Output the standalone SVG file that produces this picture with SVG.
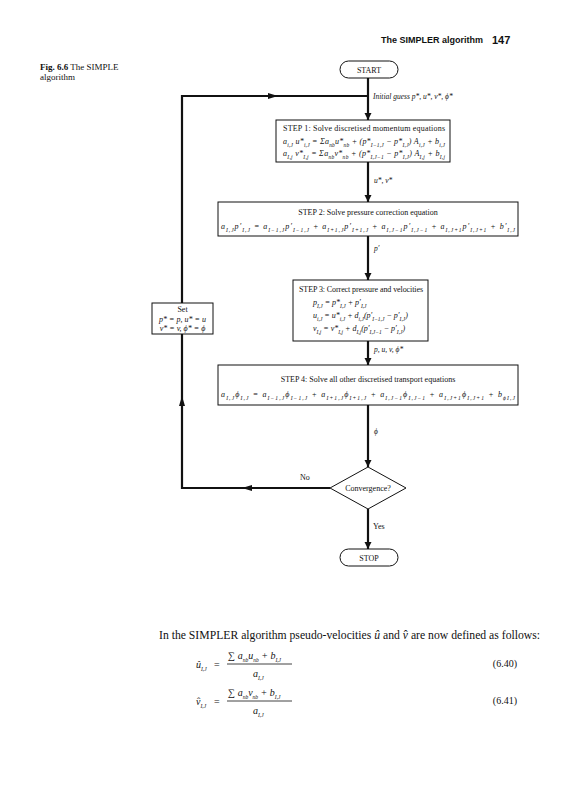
<svg xmlns="http://www.w3.org/2000/svg" width="565" height="800" viewBox="0 0 565 800">
<style>
text{font-family:"Liberation Serif","Times New Roman",serif;fill:#111}
.hd{font-family:"Liberation Sans",Arial,sans-serif;font-weight:bold}
.t{font-size:8px}
.eq{font-size:8px;font-style:italic}
.lb{font-size:7.5px;font-style:italic}
.s{font-size:5.5px;baseline-shift:sub}
.box{fill:#fff;stroke:#111;stroke-width:1}
.ln{fill:none;stroke:#111;stroke-width:2.2}
.thin{fill:none;stroke:#111;stroke-width:0.8}
.ah{fill:#111}
</style>
<defs>
<marker id="arr" viewBox="0 0 10 10" refX="10" refY="5" markerWidth="3.2" markerHeight="3.2" orient="auto" markerUnits="strokeWidth">
<path d="M0,0 L10,5 L0,10 z" class="ah"/>
</marker>
</defs>
<rect width="565" height="800" fill="#fff"/>

<!-- page header -->
<text class="hd" x="381" y="43" font-size="9">The SIMPLER algorithm</text>
<text class="hd" x="492" y="44" font-size="11">147</text>
<text x="40" y="70" font-size="9"><tspan font-weight="bold">Fig. 6.6</tspan>  The SIMPLE</text>
<text x="40" y="80" font-size="9">algorithm</text>

<!-- connectors -->
<g id="connectors">
<path class="ln" d="M368,78 V120" marker-end="url(#arr)"/>
<path class="ln" d="M182,303 V96 H368"/>
<path class="ah" d="M268,93 L278,96 L268,99 z"/>
<path class="ln" d="M368,162 V202" marker-end="url(#arr)"/>
<path class="ln" d="M368,236 V280" marker-end="url(#arr)"/>
<path class="ln" d="M368,341 V365" marker-end="url(#arr)"/>
<path class="ln" d="M368,405 V467" marker-end="url(#arr)"/>
<path class="ln" d="M330,488 H182 V334"/>
<path class="ah" d="M252,485 L242,488 L252,491 z"/>
<path class="ah" d="M179,406 L182,396 L185,406 z"/>
<path class="ln" d="M368,509 V549" marker-end="url(#arr)"/>
<text class="lb" x="373" y="99">Initial guess <tspan>p*, u*, v*, ϕ*</tspan></text>
<text class="lb" x="374" y="183">u*, v*</text>
<text class="lb" x="374" y="251">p′</text>
<text class="lb" x="374" y="352">p, u, v, ϕ*</text>
<text class="lb" x="374" y="434">ϕ</text>
<text class="t" x="300" y="480">No</text>
<text class="t" x="373" y="529">Yes</text>
</g>

<g id="start">
<rect class="box" x="340" y="61" width="58" height="17" rx="8.5"/>
<text class="t" x="369" y="72.5" text-anchor="middle">START</text>
</g>

<g id="step1">
<rect class="box" x="276" y="120" width="174" height="42"/>
<text class="t" x="283" y="131" textLength="162">STEP 1: Solve discretised momentum equations</text>
<text class="eq" x="283" y="144" textLength="162">a<tspan class="s">i,J</tspan> u*<tspan class="s">i,J</tspan> = Σa<tspan class="s">nb</tspan>u*<tspan class="s">nb</tspan> + (p*<tspan class="s">I−1,J</tspan> − p*<tspan class="s">I,J</tspan>) A<tspan class="s">i,J</tspan> + b<tspan class="s">i,J</tspan></text>
<text class="eq" x="283" y="156" textLength="162">a<tspan class="s">I,j</tspan> v*<tspan class="s">I,j</tspan> = Σa<tspan class="s">nb</tspan>v*<tspan class="s">nb</tspan> + (p*<tspan class="s">I,J−1</tspan> − p*<tspan class="s">I,J</tspan>) A<tspan class="s">I,j</tspan> + b<tspan class="s">I,j</tspan></text>
</g>

<g id="step2">
<rect class="box" x="218" y="202" width="300" height="34"/>
<text class="t" x="368" y="215" text-anchor="middle">STEP 2: Solve pressure correction equation</text>
<text class="eq" x="221" y="229" textLength="294">a<tspan class="s">I,J</tspan>p′<tspan class="s">I,J</tspan> = a<tspan class="s">I−1,J</tspan>p′<tspan class="s">I−1,J</tspan> + a<tspan class="s">I+1,J</tspan>p′<tspan class="s">I+1,J</tspan> + a<tspan class="s">I,J−1</tspan>p′<tspan class="s">I,J−1</tspan> + a<tspan class="s">I,J+1</tspan>p′<tspan class="s">I,J+1</tspan> + b′<tspan class="s">I,J</tspan></text>
</g>

<g id="step3">
<rect class="box" x="293" y="280" width="135" height="61"/>
<text class="t" x="299" y="292" textLength="124">STEP 3: Correct pressure and velocities</text>
<text class="eq" x="313" y="305">p<tspan class="s">I,J</tspan> = p*<tspan class="s">I,J</tspan> + p′<tspan class="s">I,J</tspan></text>
<text class="eq" x="313" y="318">u<tspan class="s">i,J</tspan> = u*<tspan class="s">i,J</tspan> + d<tspan class="s">i,J</tspan>(p′<tspan class="s">I−1,J</tspan> − p′<tspan class="s">I,J</tspan>)</text>
<text class="eq" x="313" y="331">v<tspan class="s">I,j</tspan> = v*<tspan class="s">I,j</tspan> + d<tspan class="s">I,j</tspan>(p′<tspan class="s">I,J−1</tspan> − p′<tspan class="s">I,J</tspan>)</text>
</g>

<g id="set">
<rect class="box" x="152" y="303" width="61" height="31"/>
<text class="t" x="182.5" y="312" text-anchor="middle">Set</text>
<text class="eq" x="182.5" y="322" text-anchor="middle">p* = p, u* = u</text>
<text class="eq" x="182.5" y="331" text-anchor="middle">v* = v, ϕ* = ϕ</text>
</g>

<g id="step4">
<rect class="box" x="218" y="365" width="300" height="40"/>
<text class="t" x="368" y="382" text-anchor="middle">STEP 4: Solve all other discretised transport equations</text>
<text class="eq" x="221" y="397" textLength="294">a<tspan class="s">I,J</tspan>ϕ<tspan class="s">I,J</tspan> = a<tspan class="s">I−1,J</tspan>ϕ<tspan class="s">I−1,J</tspan> + a<tspan class="s">I+1,J</tspan>ϕ<tspan class="s">I+1,J</tspan> + a<tspan class="s">I,J−1</tspan>ϕ<tspan class="s">I,J−1</tspan> + a<tspan class="s">I,J+1</tspan>ϕ<tspan class="s">I,J+1</tspan> + b<tspan class="s">ϕI,J</tspan></text>
</g>

<g id="convergence">
<path class="box" d="M368,467 L406,488 L368,509 L330,488 z"/>
<text class="t" x="368" y="491" text-anchor="middle">Convergence?</text>
</g>

<g id="stop">
<rect class="box" x="340" y="549" width="58" height="17" rx="8.5"/>
<text class="t" x="369" y="560.5" text-anchor="middle">STOP</text>
</g>

<!-- body text -->
<text x="159" y="639" font-size="11.7">In the SIMPLER algorithm pseudo-velocities <tspan font-style="italic">û</tspan> and <tspan font-style="italic">v</tspan><tspan dx="-4.15">ˆ</tspan><tspan dx="0.25"> are now defined as follows:</tspan></text>

<text x="196" y="668" font-size="10" font-style="italic">û<tspan class="s" font-size="7">I,J</tspan></text>
<text x="214" y="668" font-size="10">=</text>
<text x="228" y="659" font-size="10" font-style="italic"><tspan font-style="normal">∑</tspan> a<tspan class="s" font-size="7">nb</tspan>u<tspan class="s" font-size="7">nb</tspan> + b<tspan class="s" font-size="7">I,J</tspan></text>
<path class="thin" d="M227,664 H292"/>
<text x="253" y="677" font-size="10" font-style="italic">a<tspan class="s" font-size="7">I,J</tspan></text>
<text x="517" y="667" font-size="10" text-anchor="end">(6.40)</text>

<text x="196" y="705" font-size="10" font-style="italic">v<tspan dx="-3.5" font-style="normal">ˆ</tspan><tspan dx="0.16" class="s" font-size="7">I,J</tspan></text>
<text x="214" y="705" font-size="10" fill="#888">=</text>
<text x="228" y="696" font-size="10" font-style="italic"><tspan font-style="normal">∑</tspan> a<tspan class="s" font-size="7">nb</tspan>v<tspan class="s" font-size="7">nb</tspan> + b<tspan class="s" font-size="7">I,J</tspan></text>
<path class="thin" d="M227,701 H292"/>
<text x="253" y="714" font-size="10" font-style="italic">a<tspan class="s" font-size="7">I,J</tspan></text>
<text x="517" y="704" font-size="10" text-anchor="end">(6.41)</text>
</svg>
